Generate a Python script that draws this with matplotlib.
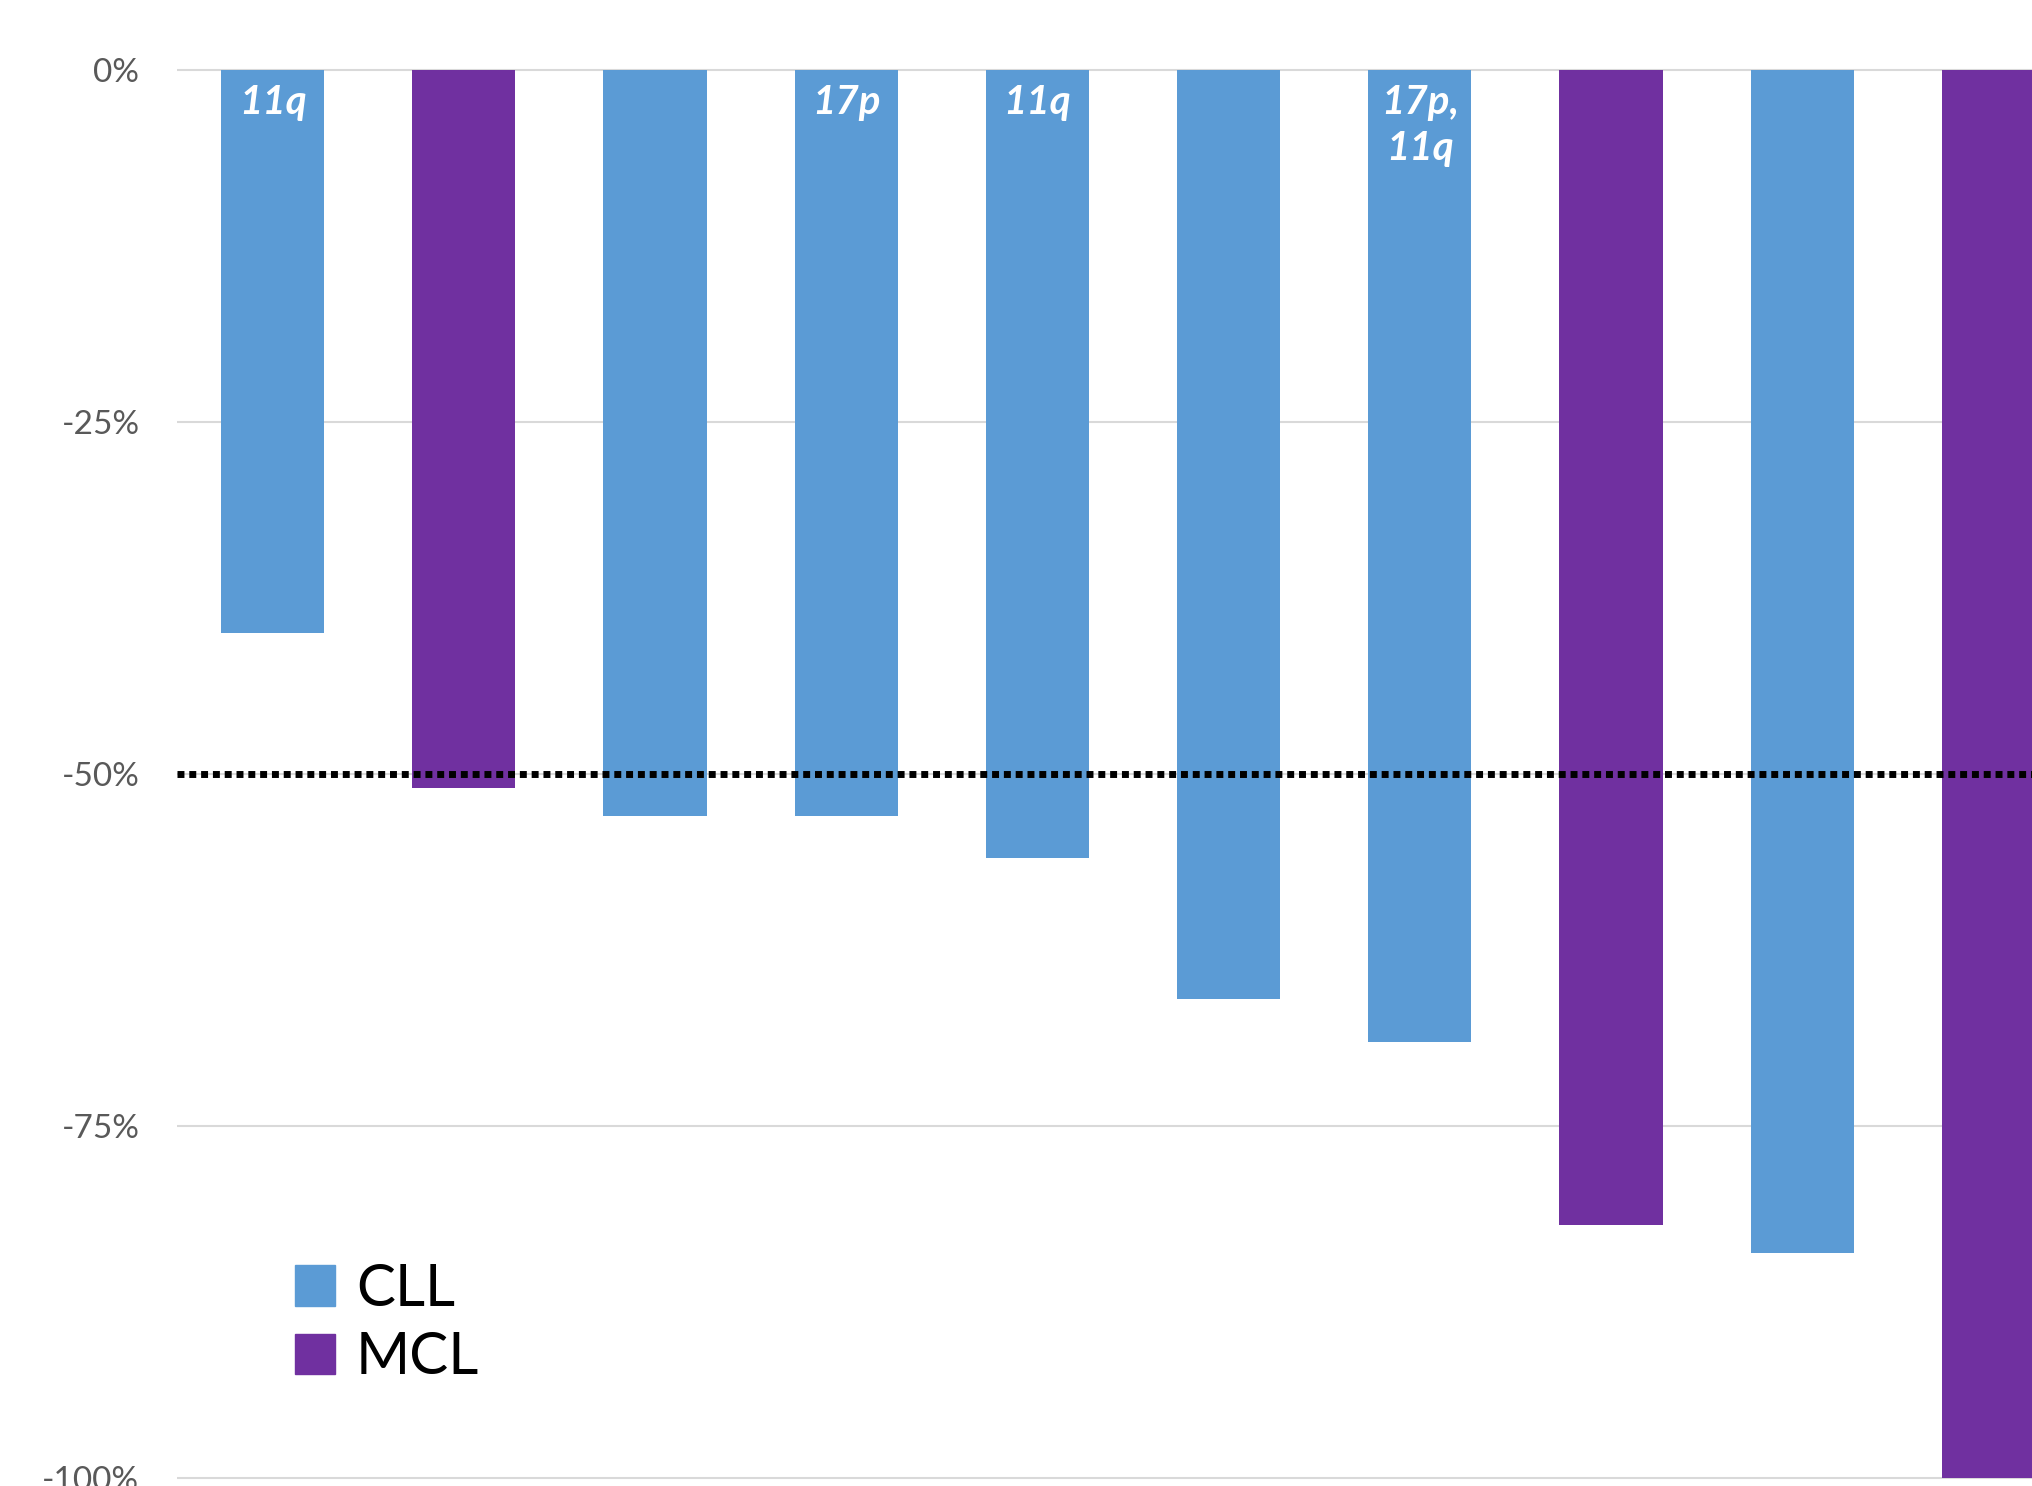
import matplotlib
matplotlib.use("Agg")
import matplotlib.pyplot as plt
from matplotlib.patches import Patch
import numpy as np

# percent change per patient
values = [-40, -51, -53, -53, -56, -66, -69, -82, -84, -100]
disease = ['CLL', 'MCL', 'CLL', 'CLL', 'CLL', 'CLL', 'CLL', 'MCL', 'CLL', 'MCL']
bar_labels = ['11q', '', '', '17p', '11q', '', '17p,\n11q', '', '', '']
yticks = [0, -25, -50, -75, -100]
ytick_labels = ['0%', '-25%', '-50%', '-75%', '-100%']

colors = {'CLL': '#5B9BD5', 'MCL': '#7030A0'}
font = 'Lato'

W, H = 2033, 1486
fig = plt.figure(figsize=(W / 100, H / 100), dpi=100)
# axes box in pixels
left, right = 177, W
top, bottom = 67.2, 1480.8
ax = fig.add_axes([left / W, 1 - bottom / H, (right - left) / W, (bottom - top) / H])

x = np.arange(len(values))
ax.bar(x, values, width=0.54, color=[colors[d] for d in disease], zorder=2)

for xi, lab in zip(x, bar_labels):
    if lab:
        ax.text(xi, -1.0, lab, ha='center', va='top', color='white',
                fontsize=29, fontweight='bold', fontstyle='italic',
                family=font, linespacing=1.3, zorder=3)

ax.axhline(-50, color='black', lw=5, linestyle=(0, (1, 0.7)), zorder=4)

ax.set_xlim(-0.5, 9.207)
ax.set_ylim(-100.2, 0.2)
ax.set_yticks(yticks)
ax.set_yticklabels(ytick_labels, family=font, fontsize=24, color='#595959')
ax.set_xticks([])
ax.tick_params(axis='y', length=0, pad=27)
ax.yaxis.grid(True, color='#d9d9d9', lw=1.5)
ax.set_axisbelow(True)
for s in ax.spines.values():
    s.set_visible(False)

handles = [Patch(color=colors['CLL'], label='CLL'),
           Patch(color=colors['MCL'], label='MCL')]
ax.legend(handles=handles, loc='upper left',
          bbox_to_anchor=(295 / W, 1 - 1263 / H), bbox_transform=fig.transFigure,
          frameon=False, prop={'family': font, 'size': 42},
          handlelength=0.686, handleheight=0.686, handletextpad=0.36,
          borderpad=0, borderaxespad=0, labelspacing=0.26)

fig.savefig('out.png', dpi=100)
